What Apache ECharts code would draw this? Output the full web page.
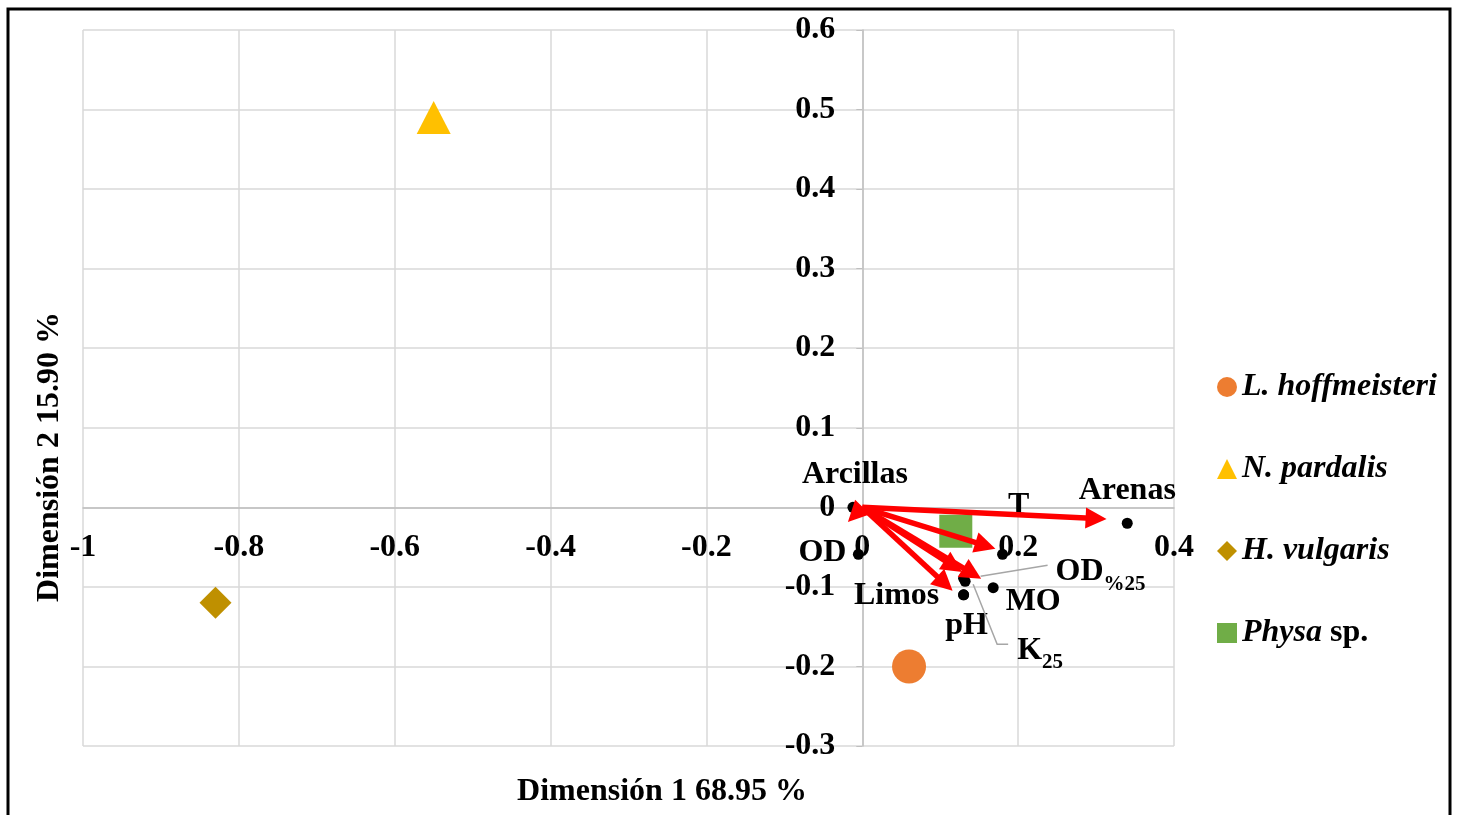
<!DOCTYPE html>
<html>
<head>
<meta charset="utf-8">
<script src="https://cdn.jsdelivr.net/npm/echarts@6/dist/echarts.min.js"></script>
<style>html,body{margin:0;padding:0;background:#fff}#c{width:1460px;height:815px}</style>
</head>
<body>
<div id="c"></div>
<script>
// ---- data ----
const speciesNames = ['L. hoffmeisteri', 'N. pardalis', 'H. vulgaris', 'Physa sp.'];
const speciesX = [0.06, -0.55, -0.83, 0.12];
const speciesY = [-0.20, 0.49, -0.12, -0.03];

const varNames = ['Arcillas', 'Arenas', 'T', 'OD', 'OD%25', 'K25', 'Limos', 'pH', 'MO'];
const varX = [-0.012, 0.340, 0.180, -0.005, 0.130, 0.132, 0.130, 0.130, 0.168];
const varY = [0.000, -0.020, -0.059, -0.059, -0.089, -0.093, -0.110, -0.110, -0.101];

const vecX = [0.300, -0.009, 0.158, 0.141, 0.117, 0.106];
const vecY = [-0.014, -0.009, -0.048, -0.083, -0.074, -0.096];

const xTicks = [-1, -0.8, -0.6, -0.4, -0.2, 0, 0.2, 0.4];
const yTicks = [-0.3, -0.2, -0.1, 0, 0.1, 0.2, 0.3, 0.4, 0.5, 0.6];
const xTitle = 'Dimensión 1 68.95 %';
const yTitle = 'Dimensión 2 15.90 %';

// ---- styles ----
const FONT = 'Liberation Serif';
const FS = 32;
const speciesStyle = [
  { symbol: 'circle', size: 34, color: '#ED7D31' },
  { symbol: 'triangle', size: [34, 33], color: '#FFC000' },
  { symbol: 'diamond', size: [32, 32], color: '#BF9000' },
  { symbol: 'rect', size: [33, 33], color: '#70AD47' }
];
const labelOffsets = {
  'Arcillas': [2, -33], 'Arenas': [0, -33], 'T': [16, -49], 'OD': [-36, -2],
  'OD%25': [137, -6], 'K25': [75, 69], 'Limos': [-67, 1], 'pH': [3, 31], 'MO': [40, 14]
};
const labelText = { 'OD%25': 'OD{s|%25}', 'K25': 'K{s|25}' };
const leaders = {
  'OD%25': [[84, -13], [17, -2]],
  'K25': [[43, 63], [32, 63], [8, 3]]
};

const chart = echarts.init(document.getElementById('c'), null, { renderer: 'canvas' });

const series = [];
speciesNames.forEach((n, i) => {
  series.push({
    name: n, type: 'scatter', z: 2,
    symbol: speciesStyle[i].symbol, symbolSize: speciesStyle[i].size,
    itemStyle: { color: speciesStyle[i].color, opacity: 1 },
    emphasis: { disabled: true },
    data: [[speciesX[i], speciesY[i]]]
  });
});
series.push({
  name: 'vars', type: 'scatter', z: 3, symbol: 'circle', symbolSize: 11,
  itemStyle: { color: '#000', opacity: 1 },
  data: varNames.map((n, i) => ({
    name: n, value: [varX[i], varY[i]],
    label: { offset: labelOffsets[n] }
  })),
  label: {
    show: true, position: 'inside', color: '#000', opacity: 1,
    textBorderWidth: 0, textBorderColor: 'transparent',
    fontFamily: FONT, fontSize: FS, fontWeight: 'bold', lineHeight: 34,
    formatter: p => labelText[p.name] || p.name,
    rich: { s: { fontFamily: FONT, fontSize: 21, fontWeight: 'bold', color: '#000', lineHeight: 46, verticalAlign: 'bottom' } }
  },
  emphasis: { disabled: true }
});
series.push({
  name: 'vectors', type: 'lines', coordinateSystem: 'cartesian2d', z: 4,
  symbol: ['none', 'triangle'], symbolSize: [24, 21],
  lineStyle: { color: '#FF0000', width: 5.5, opacity: 1, curveness: 0 },
  data: vecX.map((x, i) => ({ coords: [[0, 0], [x, vecY[i]]] }))
});

const axisLabel = { color: '#000', fontFamily: FONT, fontSize: FS, fontWeight: 'bold' };

chart.setOption({
  animation: false,
  grid: { left: 83, right: 286, top: 30, bottom: 69 },
  xAxis: {
    type: 'value', min: xTicks[0], max: xTicks[xTicks.length - 1], interval: 0.2,
    axisLine: { onZero: false, lineStyle: { color: '#bfbfbf', width: 1.5 } },
    axisTick: { show: false },
    axisLabel: Object.assign({ margin: 24 }, axisLabel),
    splitLine: { show: true, lineStyle: { color: '#d9d9d9', width: 1.5 } }
  },
  yAxis: {
    type: 'value', min: yTicks[0], max: yTicks[yTicks.length - 1], interval: 0.1,
    axisLine: { onZero: false, lineStyle: { color: '#bfbfbf', width: 1.5 } },
    axisTick: { show: true, length: 6, lineStyle: { color: '#bfbfbf' } },
    axisLabel: Object.assign({ margin: 27, padding: [4, 0, 0, 0] }, axisLabel),
    splitLine: { show: true, lineStyle: { color: '#d9d9d9', width: 1.5 } }
  },
  legend: {
    data: speciesNames, orient: 'vertical', left: 1212, top: 366,
    itemWidth: 20, itemHeight: 20, itemGap: 50,
    textStyle: { color: '#000', fontFamily: FONT, fontSize: FS, fontWeight: 'bold', fontStyle: 'italic', lineHeight: 32,
      rich: {
        i: { fontFamily: FONT, fontSize: FS, fontWeight: 'bold', fontStyle: 'italic', color: '#000' },
        n: { fontFamily: FONT, fontSize: FS, fontWeight: 'bold', fontStyle: 'normal', color: '#000' }
      } },
    formatter: n => n === 'Physa sp.' ? '{i|Physa} {n|sp.}' : '{i|' + n + '}'
  },
  series: series
});

// move axes to cross at zero
const p0 = chart.convertToPixel({ gridIndex: 0 }, [0, 0]);
const pMin = chart.convertToPixel({ gridIndex: 0 }, [xTicks[0], yTicks[0]]);
chart.setOption({
  xAxis: { offset: -(pMin[1] - p0[1]) },
  yAxis: { offset: -(p0[0] - pMin[0]) }
});

// graphics: frame, axis titles, leader lines
const graphics = [
  { type: 'rect', silent: true, shape: { x: 8, y: 9, width: 1442, height: 830 },
    style: { fill: 'none', stroke: '#000', lineWidth: 3 }, z: 10 },
  { type: 'text', silent: true, x: 662, y: 792,
    style: { text: xTitle, fill: '#000', font: 'bold ' + FS + 'px "' + FONT + '"', textAlign: 'center', textVerticalAlign: 'middle' } },
  { type: 'text', silent: true, x: 50, y: 457, rotation: Math.PI / 2,
    style: { text: yTitle, fill: '#000', font: 'bold ' + FS + 'px "' + FONT + '"', textAlign: 'center', textVerticalAlign: 'middle' } }
];
Object.keys(leaders).forEach(n => {
  const i = varNames.indexOf(n);
  const p = chart.convertToPixel({ gridIndex: 0 }, [varX[i], varY[i]]);
  graphics.push({
    type: 'polyline', silent: true, z: 5,
    shape: { points: leaders[n].map(o => [p[0] + o[0], p[1] + o[1]]) },
    style: { stroke: '#a6a6a6', lineWidth: 1.5, fill: 'none' }
  });
});
chart.setOption({ graphic: graphics });
</script>
</body>
</html>
